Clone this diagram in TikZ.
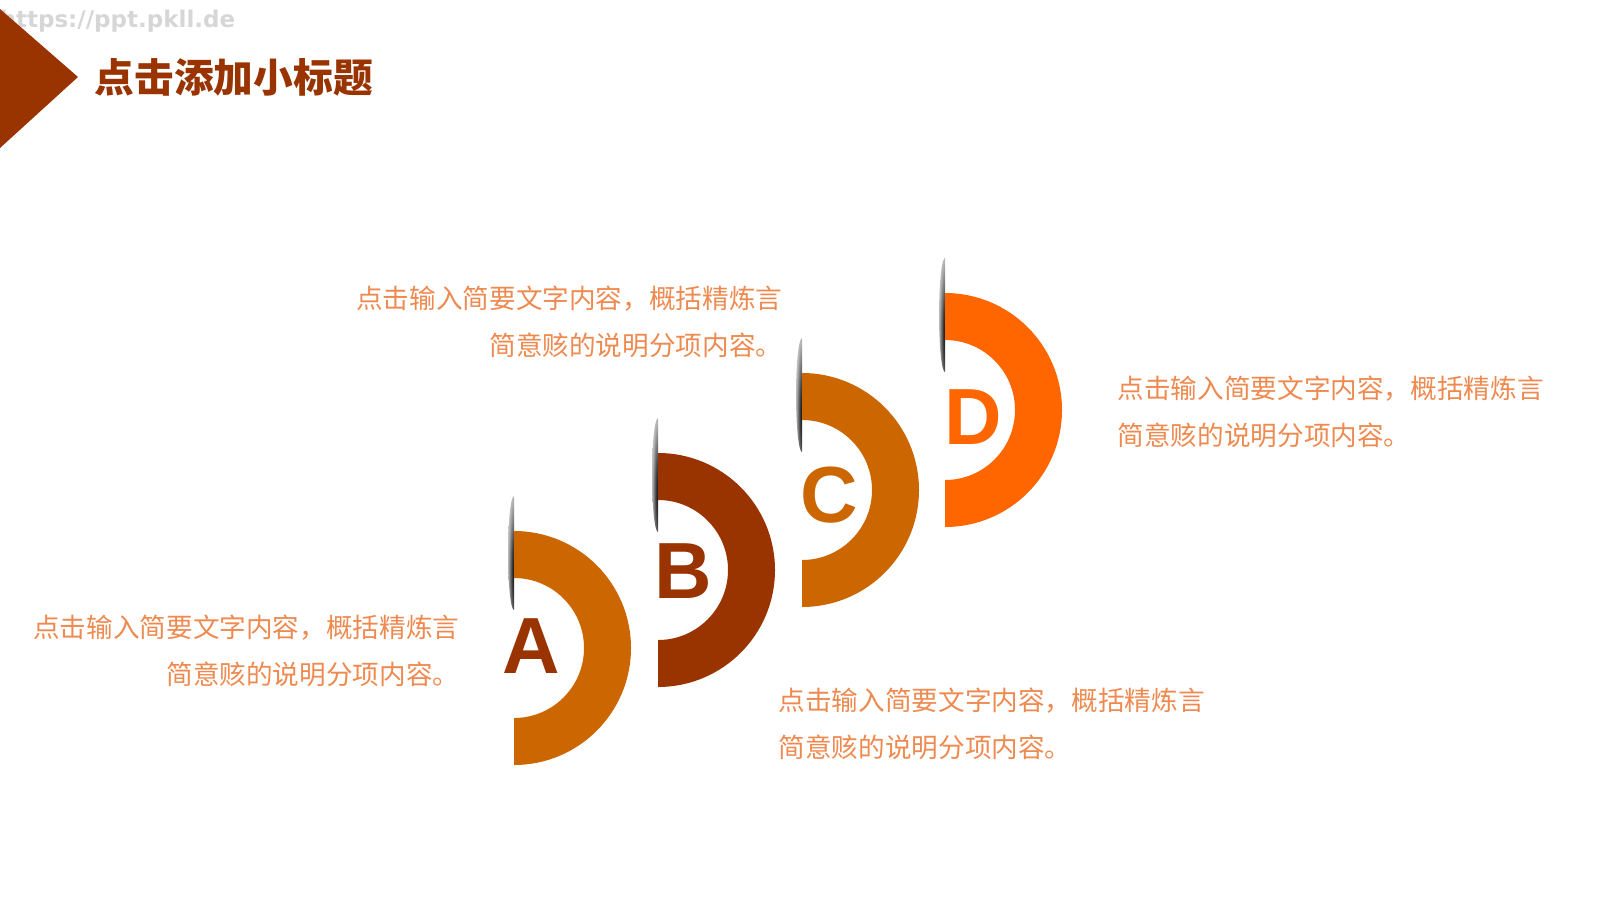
\documentclass[tikz,border=0pt]{standalone}
\usepackage{fontspec}
\newfontfamily\cjk{Noto Sans CJK SC}
\newfontfamily\capfont{Liberation Sans}
\newfontfamily\urlfont{DejaVu Sans}
\definecolor{darkrust}{HTML}{993300}
\definecolor{burnt}{HTML}{CC6600}
\definecolor{flame}{HTML}{FF6600}
\definecolor{notecol}{HTML}{EE8A50}
\definecolor{markgray}{HTML}{D6D6D6}
\pgfdeclareradialshading{cutshadow}{\pgfpointorigin}{color(0bp)=(black!95); color(10bp)=(black!75); color(24bp)=(black!30); color(40bp)=(black!6); color(50bp)=(white)}
\tikzset{
  caps/.style={font=\capfont\bfseries\fontsize{22.65pt}{24pt}\selectfont, inner sep=0pt},
  note/.style={font=\cjk\fontsize{7.57pt}{13.37pt}\selectfont, text=notecol, inner sep=0pt},
}
\newcommand\cutedge[1]{%
  \begin{scope}
    \clip (#1) ++(-10,-160) rectangle ++(10,130);
    \shade[shading=cutshadow] (#1) ++(0,-95) ellipse[x radius=6, y radius=57];
  \end{scope}}
\begin{document}
\begin{tikzpicture}[x=0.01cm, y=-0.01cm]
        \useasboundingbox (0,0) rectangle (1600,900);
        % header
        \node[anchor=west, inner sep=0pt, font=\urlfont\bfseries\fontsize{6.54pt}{8pt}\selectfont, text=markgray] (mark) at (-1,21) {https://ppt.pkll.de};
        \fill[darkrust] (0,9) -- (78,77) -- (0,148) -- cycle;
        \node[anchor=west, inner sep=0pt, font=\cjk\bfseries\fontsize{11.3pt}{13pt}\selectfont, text=darkrust] (title) at (94,77) {点击添加小标题};
        % ring centres
        \coordinate (ca) at (514,648);
        \coordinate (cb) at (658,570);
        \coordinate (cc) at (802,490);
        \coordinate (cd) at (945,410);
        % shadows on the cut edges
        \cutedge{ca}
        \cutedge{cb}
        \cutedge{cc}
        \cutedge{cd}
        % half rings
        \fill[burnt] (ca) ++(0,-117) arc[start angle=-90, end angle=90, radius=117] -- ++(0,-47) arc[start angle=90, end angle=-90, radius=70] -- cycle;
        \fill[darkrust] (cb) ++(0,-117) arc[start angle=-90, end angle=90, radius=117] -- ++(0,-47) arc[start angle=90, end angle=-90, radius=70] -- cycle;
        \fill[burnt] (cc) ++(0,-117) arc[start angle=-90, end angle=90, radius=117] -- ++(0,-47) arc[start angle=90, end angle=-90, radius=70] -- cycle;
        \fill[flame] (cd) ++(0,-117) arc[start angle=-90, end angle=90, radius=117] -- ++(0,-47) arc[start angle=90, end angle=-90, radius=70] -- cycle;
        % letters
        \node[caps, text=darkrust] (la) at (531,646) {A};
        \node[caps, text=darkrust] (lb) at (683,571) {B};
        \node[caps, text=burnt] (lc) at (829,495) {C};
        \node[caps, text=flame] (ld) at (973,417) {D};
        % notes
        \node[note, anchor=east, align=right] (na) at (460,651) {点击输入简要文字内容，概括精炼言\\简意赅的说明分项内容。};
        \node[note, anchor=east, align=right] (nb) at (783,322) {点击输入简要文字内容，概括精炼言\\简意赅的说明分项内容。};
        \node[note, anchor=west, align=left] (nc) at (778,724) {点击输入简要文字内容，概括精炼言\\简意赅的说明分项内容。};
        \node[note, anchor=west, align=left] (nd) at (1117,412) {点击输入简要文字内容，概括精炼言\\简意赅的说明分项内容。};
    \end{tikzpicture}
\end{document}
